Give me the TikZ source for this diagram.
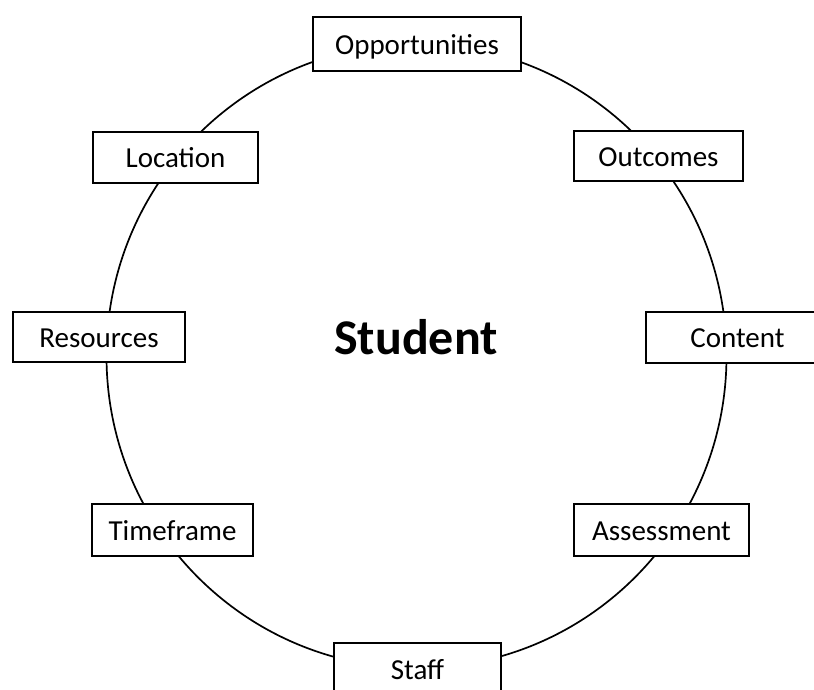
\documentclass[tikz,border=0pt]{standalone}
\usepackage{fontspec}
\setmainfont{Carlito}
\usetikzlibrary{shapes.geometric}
\begin{document}
\begin{tikzpicture}[x=1pt,y=-1pt,
  lbl/.style={draw=black, line width=2pt, fill=white, inner sep=0pt,
    text height=22pt, text depth=2pt, font=\fontsize{29}{33}\selectfont},
  ring/.style={draw=black, line width=1.7pt, ellipse, inner sep=0pt, outer sep=0pt}]
\useasboundingbox (0,0) rectangle (814,689);
\clip (0,0) rectangle (814,689);
\node[ring, minimum width=620pt, minimum height=624pt] (ring) at (416.5,356) {};
\node[font=\bfseries\fontsize{50}{58}\selectfont, text height=35pt, text depth=1pt, inner sep=0pt] (student) at (416,337) {Student};
\node[lbl, minimum width=208pt, minimum height=54pt] (opp) at (417,44) {Opportunities};
\node[lbl, minimum width=165pt, minimum height=51pt] (loc) at (175.5,157.5) {Location};
\node[lbl, minimum width=169pt, minimum height=50pt] (out) at (658.5,156) {Outcomes};
\node[lbl, minimum width=172pt, minimum height=50pt] (res) at (99,337) {Resources};
\node[lbl, minimum width=183pt, minimum height=51pt] (con) at (737.5,337.5) {Content};
\node[lbl, minimum width=161pt, minimum height=52pt] (tim) at (172.5,530) {Timeframe};
\node[lbl, minimum width=175pt, minimum height=52pt] (ass) at (661.5,530) {Assessment};
\node[lbl, minimum width=167pt, minimum height=52pt] (sta) at (417.5,669) {Staff};
\end{tikzpicture}
\end{document}
